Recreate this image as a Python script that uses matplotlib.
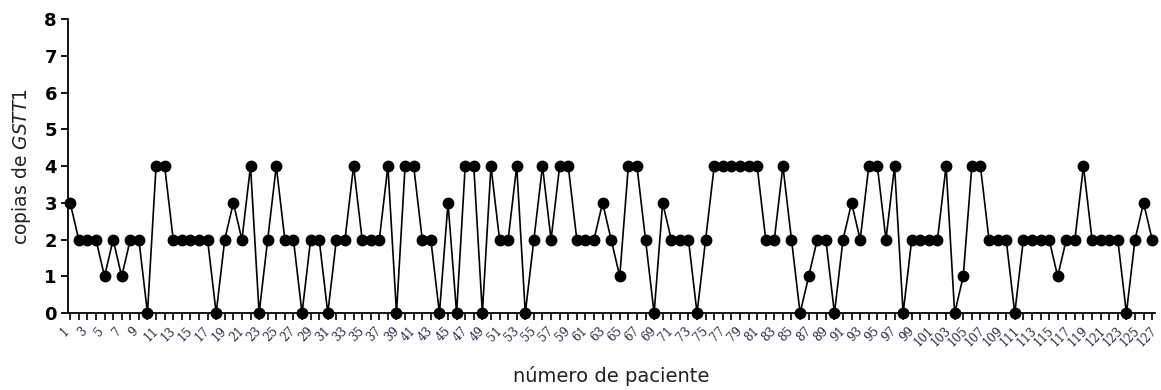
import numpy as np
import matplotlib
matplotlib.use('Agg')
import matplotlib.pyplot as plt
import matplotlib.transforms as mtransforms

# número de paciente 1..127
pacientes = np.arange(1, 128)
# copias de GSTT1 por paciente
copias = [3, 2, 2, 2, 1, 2, 1, 2, 2, 0,
          4, 4, 2, 2, 2, 2, 2, 0, 2, 3,
          2, 4, 0, 2, 4, 2, 2, 0, 2, 2,
          0, 2, 2, 4, 2, 2, 2, 4, 0, 4,
          4, 2, 2, 0, 3, 0, 4, 4, 0, 4,
          2, 2, 4, 0, 2, 4, 2, 4, 4, 2,
          2, 2, 3, 2, 1, 4, 4, 2, 0, 3,
          2, 2, 2, 0, 2, 4, 4, 4, 4, 4,
          4, 2, 2, 4, 2, 0, 1, 2, 2, 0,
          2, 3, 2, 4, 4, 2, 4, 0, 2, 2,
          2, 2, 4, 0, 1, 4, 4, 2, 2, 2,
          0, 2, 2, 2, 2, 1, 2, 2, 4, 2,
          2, 2, 2, 0, 2, 3, 2]
etiquetas_x = np.arange(1, 128, 2)

fig = plt.figure(figsize=(11.61, 3.9), dpi=100)
ax = fig.add_axes([0.0586, 0.197, 0.936, 0.754])

ax.plot(pacientes, copias, color='black', lw=1.2, marker='o', markersize=7.5,
        markerfacecolor='black', markeredgecolor='black', clip_on=False, zorder=3)

ax.set_xlim(0.75, 127.3)
ax.set_ylim(0, 8)
ax.spines['top'].set_visible(False)
ax.spines['right'].set_visible(False)
ax.spines['left'].set_linewidth(1.3)
ax.spines['bottom'].set_linewidth(1.3)

ax.set_yticks(range(0, 9))
ax.tick_params(axis='y', direction='out', length=5, width=1.3, labelsize=13, pad=3)
for t in ax.get_yticklabels():
    t.set_fontweight('bold')

ax.set_xticks(pacientes, minor=True)
ax.set_xticks(etiquetas_x)
ax.set_xticklabels([str(v) for v in etiquetas_x], rotation=45, ha='center',
                   fontsize=8.5, family='DejaVu Serif', color='#1c2a45')
ax.tick_params(axis='x', which='both', direction='out', length=5, width=1.2, pad=3)
desplazar = mtransforms.ScaledTranslation(-5 / 100, 0, fig.dpi_scale_trans)
for t in ax.get_xticklabels():
    t.set_transform(t.get_transform() + desplazar)

ax.set_ylabel('copias de $\\mathit{GSTT1}$', fontsize=13.5, color='#222222', labelpad=8)
ax.set_xlabel('número de paciente', fontsize=14, color='#222222', labelpad=12)

fig.savefig('out.png', dpi=100)
